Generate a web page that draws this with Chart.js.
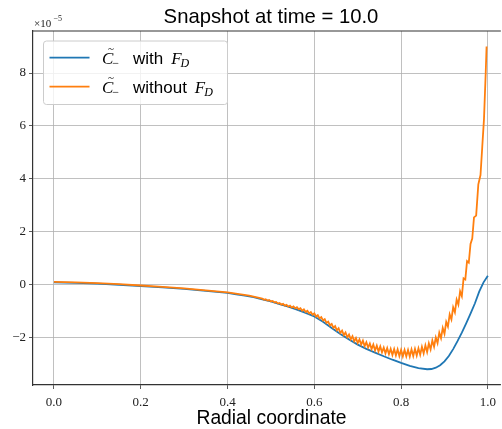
<!DOCTYPE html>
<html>
<head>
<meta charset="utf-8">
<script src="https://cdn.jsdelivr.net/npm/chart.js@4.4.0/dist/chart.umd.min.js"></script>
<style>
  body { margin: 0; background: #fff; }
  #wrap { width: 502px; height: 429px; }
</style>
</head>
<body>
<div id="wrap"><canvas id="snapshotChart" width="502" height="429"></canvas></div>
<script>
// valeurs (unité : 1e-5)
var xTickValues = [0.0, 0.2, 0.4, 0.6, 0.8, 1.0];
var yTickValues = [-2, 0, 2, 4, 6, 8];

// C~ avec F_D
var blueX = [0.00, 0.05, 0.10, 0.15, 0.20, 0.25, 0.30, 0.35, 0.40, 0.42,
    0.44, 0.46, 0.48, 0.50, 0.52, 0.54, 0.56, 0.58, 0.60, 0.62,
    0.64, 0.66, 0.68, 0.70, 0.72, 0.74, 0.76, 0.78, 0.80, 0.82,
    0.84, 0.86, 0.87, 0.88, 0.89, 0.90, 0.91, 0.92, 0.93, 0.94,
    0.95, 0.96, 0.97, 0.98, 0.99, 1.00];
var blueY = [0.10, 0.08, 0.05, 0.01, -0.04, -0.09, -0.15, -0.22, -0.30, -0.35,
    -0.40, -0.46, -0.54, -0.62, -0.72, -0.82, -0.93, -1.05, -1.19, -1.39,
    -1.62, -1.85, -2.06, -2.25, -2.41, -2.55, -2.69, -2.82, -2.94, -3.05,
    -3.14, -3.18, -3.17, -3.12, -3.03, -2.88, -2.68, -2.42, -2.12, -1.80,
    -1.45, -1.08, -0.70, -0.25, 0.10, 0.35];

// C~ sans F_D (oscillations)
var orangeX = [0.00, 0.05, 0.10, 0.15, 0.20, 0.25, 0.30, 0.35, 0.40, 0.45,
    0.480, 0.484, 0.488, 0.492, 0.496, 0.500, 0.504, 0.508, 0.512, 0.516,
    0.520, 0.524, 0.528, 0.532, 0.536, 0.540, 0.544, 0.548, 0.552, 0.556,
    0.560, 0.564, 0.568, 0.572, 0.576, 0.580, 0.584, 0.588, 0.592, 0.596,
    0.600, 0.604, 0.608, 0.612, 0.616, 0.620, 0.624, 0.628, 0.632, 0.636,
    0.640, 0.644, 0.648, 0.652, 0.656, 0.660, 0.664, 0.668, 0.672, 0.676,
    0.680, 0.684, 0.688, 0.692, 0.696, 0.700, 0.704, 0.708, 0.712, 0.716,
    0.720, 0.724, 0.728, 0.732, 0.736, 0.740, 0.744, 0.748, 0.752, 0.756,
    0.760, 0.764, 0.768, 0.772, 0.776, 0.780, 0.784, 0.788, 0.792, 0.796,
    0.800, 0.804, 0.808, 0.812, 0.816, 0.820, 0.824, 0.828, 0.832, 0.836,
    0.840, 0.844, 0.848, 0.852, 0.856, 0.860, 0.864, 0.868, 0.872, 0.876,
    0.880, 0.884, 0.888, 0.892, 0.896, 0.900, 0.904, 0.908, 0.912, 0.916,
    0.920, 0.924, 0.928, 0.932, 0.936, 0.940, 0.944, 0.948, 0.952, 0.956,
    0.960, 0.964, 0.968, 0.973, 0.978, 0.983, 0.987, 0.991, 0.995, 0.997];
var orangeY = [0.12, 0.10, 0.07, 0.03, -0.02, -0.07, -0.13, -0.20, -0.28, -0.40,
    -0.51, -0.56, -0.54, -0.59, -0.57, -0.62, -0.60, -0.66, -0.64, -0.70,
    -0.68, -0.74, -0.71, -0.78, -0.75, -0.82, -0.78, -0.85, -0.81, -0.88,
    -0.84, -0.92, -0.88, -0.97, -0.92, -1.02, -0.97, -1.07, -1.02, -1.12,
    -1.07, -1.19, -1.14, -1.26, -1.21, -1.34, -1.29, -1.43, -1.38, -1.52,
    -1.47, -1.62, -1.55, -1.71, -1.63, -1.81, -1.72, -1.89, -1.79, -1.97,
    -1.87, -2.05, -1.93, -2.12, -2.00, -2.19, -2.05, -2.25, -2.10, -2.31,
    -2.16, -2.36, -2.21, -2.42, -2.25, -2.47, -2.29, -2.51, -2.32, -2.54,
    -2.36, -2.58, -2.38, -2.61, -2.41, -2.64, -2.42, -2.66, -2.43, -2.68,
    -2.45, -2.69, -2.45, -2.69, -2.45, -2.70, -2.43, -2.68, -2.41, -2.66,
    -2.39, -2.63, -2.33, -2.58, -2.28, -2.53, -2.20, -2.43, -2.09, -2.33,
    -1.98, -2.19, -1.80, -2.01, -1.62, -1.84, -1.39, -1.57, -1.11, -1.30,
    -0.84, -1.03, -0.55, -0.74, -0.24, -0.42, 0.25, 0.21, 0.90, 0.84,
    1.55, 1.75, 2.55, 2.62, 3.80, 4.15, 5.20, 6.25, 8.00, 9.00];

var BLUE = '#1f77b4';
var ORANGE = '#ff7f0e';
var AXIS = '#333333';

function toPoints(xs, ys) {
    var pts = [];
    for (var i = 0; i < xs.length; i++) {
        pts.push({ x: xs[i], y: ys[i] });
    }
    return pts;
}

function fmtY(v) {
    return v < 0 ? '\u2212' + Math.abs(v) : String(v);
}

// titre, légende et décorations dessinés à la main
var decorPlugin = {
    id: 'decor',
    afterDraw: function (chart) {
        var ctx = chart.ctx;
        var area = chart.chartArea;
        ctx.save();

        // bord du haut
        ctx.strokeStyle = AXIS;
        ctx.lineWidth = 1.2;
        ctx.beginPath();
        ctx.moveTo(area.left, area.top);
        ctx.lineTo(area.right, area.top);
        ctx.stroke();

        ctx.fillStyle = '#000';
        ctx.textBaseline = 'alphabetic';

        // titre
        ctx.font = '20.3px "Liberation Sans"';
        ctx.textAlign = 'center';
        ctx.fillText('Snapshot at time = 10.0', 271, 23);

        // titre axe x
        ctx.font = '19.3px "Liberation Sans"';
        ctx.fillText('Radial coordinate', 271.5, 424);

        // facteur d'échelle
        ctx.textAlign = 'left';
        ctx.fillStyle = '#222';
        ctx.font = '11px "Liberation Serif"';
        ctx.fillText('\u00d710', 34, 26.5);
        ctx.font = '8px "Liberation Serif"';
        ctx.fillText('\u22125', 53.5, 21);

        // légende
        var bx = 43, by = 40.5, bw = 184, bh = 63.5;
        ctx.fillStyle = 'rgba(255,255,255,0.8)';
        ctx.strokeStyle = '#cccccc';
        ctx.lineWidth = 1;
        ctx.beginPath();
        ctx.roundRect(bx + 0.5, by + 0.5, bw, bh, 3);
        ctx.fill();
        ctx.stroke();

        var rows = [
            { color: BLUE, word: 'with', ly: 57.7, base: 64 },
            { color: ORANGE, word: 'without', ly: 86.7, base: 93 }
        ];
        rows.forEach(function (r) {
            ctx.strokeStyle = r.color;
            ctx.lineWidth = 1.8;
            ctx.beginPath();
            ctx.moveTo(49.5, r.ly);
            ctx.lineTo(89.5, r.ly);
            ctx.stroke();

            ctx.fillStyle = '#000';
            ctx.font = 'italic 17px "Liberation Serif"';
            ctx.fillText('C', 102, r.base);
            var cw = ctx.measureText('C').width;
            ctx.font = '11px "Liberation Serif"';
            ctx.fillText('~', 108, r.base - 12);
            ctx.font = '12px "Liberation Serif"';
            ctx.fillText('\u2212', 102 + cw - 1, r.base + 3);

            ctx.font = '17px "Liberation Sans"';
            ctx.fillText(r.word, 133, r.base);
            var ww = ctx.measureText(r.word).width;
            var fx = 133 + ww + 8;
            ctx.font = 'italic 17px "Liberation Serif"';
            ctx.fillText('F', fx, r.base);
            var fw = ctx.measureText('F').width;
            ctx.font = 'italic 12px "Liberation Serif"';
            ctx.fillText('D', fx + fw - 1, r.base + 3);
        });

        ctx.restore();
    }
};

var ctx = document.getElementById('snapshotChart').getContext('2d');
new Chart(ctx, {
    type: 'scatter',
    data: {
        datasets: [{
            label: 'with F_D',
            data: toPoints(blueX, blueY),
            showLine: true,
            borderColor: BLUE,
            borderWidth: 1.8,
            pointRadius: 0,
            tension: 0,
            order: 1
        }, {
            label: 'without F_D',
            data: toPoints(orangeX, orangeY),
            showLine: true,
            borderColor: ORANGE,
            borderWidth: 1.8,
            pointRadius: 0,
            tension: 0,
            order: 0
        }]
    },
    options: {
        responsive: false,
        animation: false,
        devicePixelRatio: 1,
        layout: { padding: { top: 31, left: 0, right: 0, bottom: 0 } },
        plugins: {
            legend: { display: false },
            title: { display: false },
            tooltip: { enabled: false }
        },
        scales: {
            x: {
                type: 'linear',
                min: -0.0483,
                max: 1.0299,
                afterBuildTicks: function (axis) {
                    axis.ticks = xTickValues.map(function (v) { return { value: v }; });
                },
                afterFit: function (scale) { scale.height = 44; },
                ticks: {
                    autoSkip: false,
                    maxRotation: 0,
                    padding: 6,
                    color: '#222',
                    font: { family: '"Liberation Serif"', size: 13 },
                    callback: function (v) { return v.toFixed(1); }
                },
                grid: { color: '#b0b0b0', lineWidth: 0.8, tickLength: 4, tickColor: AXIS },
                border: { display: true, color: AXIS, width: 1.2 }
            },
            y: {
                type: 'linear',
                min: -3.774,
                max: 9.585,
                afterBuildTicks: function (axis) {
                    axis.ticks = yTickValues.map(function (v) { return { value: v }; });
                },
                afterFit: function (scale) { scale.width = 33; },
                ticks: {
                    autoSkip: false,
                    padding: 3,
                    color: '#222',
                    font: { family: '"Liberation Serif"', size: 13 },
                    callback: function (v) { return fmtY(v); }
                },
                grid: { color: '#b0b0b0', lineWidth: 0.8, tickLength: 4, tickColor: AXIS },
                border: { display: true, color: AXIS, width: 1.2 }
            }
        }
    },
    plugins: [decorPlugin]
});
</script>
</body>
</html>
